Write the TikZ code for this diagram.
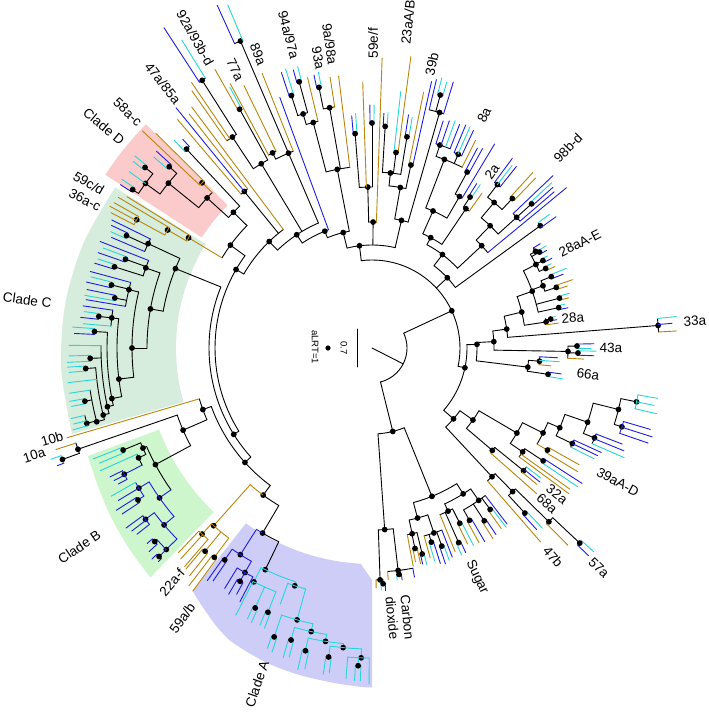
\documentclass[tikz,border=0pt]{standalone}
\usepackage{fontspec}
\setmainfont{Liberation Sans}
\definecolor{ccy}{RGB}{38,214,214}
\definecolor{cbl}{RGB}{30,30,225}
\definecolor{cbr}{RGB}{184,134,11}
\definecolor{wA}{RGB}{205,205,248}
\definecolor{wB}{RGB}{205,246,205}
\definecolor{wC}{RGB}{214,236,220}
\definecolor{wD}{RGB}{250,203,202}
\newcommand\TAr[4][black]{\draw[#1] (#2:#4) arc[start angle=#2,end angle=#3,radius=#4];}
\newcommand\TRd[4][black]{\draw[#1] (#2:#3) -- (#2:#4);}
\newcommand\TDt[2]{\fill (#1:#2) circle[radius=2.9];}
\newcommand\TTp[2]{\foreach \ta/\tr/\tc in {#2}{\draw[color=\tc] (\ta:#1) -- (\ta:\tr);}}
\newcommand\TPr[9][black]{%
 \draw[#1] ({0.5*(#2)+0.5*(#3)}:#4) -- ({0.5*(#2)+0.5*(#3)}:#5);
 \draw[#7] (#2:#5) arc[start angle=#2,end angle=#3,radius=#5];
 \draw[#7] (#2:#5) -- (#2:#6);
 \draw[#9] (#3:#5) -- (#3:#8);
 \fill ({0.5*(#2)+0.5*(#3)}:#5) circle[radius=2.9];}
\tikzset{lab/.style={font=\fontsize{13.5}{15}\selectfont, inner sep=0pt},
 sml/.style={font=\fontsize{9.5}{11}\selectfont, inner sep=0pt}}
\begin{document}
\begin{tikzpicture}[x=1pt,y=1pt,line width=0.9pt,line cap=round]
\useasboundingbox (0,0) rectangle (709,-713);
\begin{scope}[shift={(372,-348)}]
% ---------- clade wedges
\fill[wD] (135.3:203) -- (135.3:318) arc[start angle=135.3,end angle=147,radius=318] -- (147:203) arc[start angle=147,end angle=135.3,radius=203] -- cycle;
\fill[wC] (148:195) -- plot[smooth] coordinates {(148:303) (160:307) (172:310) (184:311.5) (196:312)} -- (196:196) arc[start angle=196,end angle=148,radius=196] -- cycle;
\fill[wB] (201:226) -- plot[smooth] coordinates {(200.8:304) (207:307) (213:311) (219.5:315) (226:319)} -- (226:228) arc[start angle=226,end angle=201,radius=228] -- cycle;
\fill[wA] (234.3:214) -- plot[smooth] coordinates {(233.6:302) (236:307.6) (240.9:319) (244.8:326) (251.6:332) (257.6:335) (263.4:337) (268:339) (270:339.5)} -- (270:232) -- (267:216) arc[start angle=267,end angle=234.3,radius=216] -- cycle;
% ---------- backbone
\TRd{-27}{0}{35}
\TAr{-76}{25}{35}
\TRd{25}{35}{88} \TDt{25}{88}
\TAr{-12}{97}{88}
% ---------- right lower (39aA-D etc.)
\TRd{-12}{88}{95} \TDt{-12}{95}
\TAr{-41}{2}{95}
\TRd{-41}{95}{108} \TDt{-41}{108}
\TAr{-47}{-35.5}{108}
\TRd{-47}{108}{176} \TDt{-47}{176}
\TAr{-49}{-45.6}{176}
\TRd[cbr]{-49}{176}{257}
\TRd{-45.6}{176}{201} \TDt{-45.6}{201}
\TAr{-47.2}{-44.5}{201}
\TPr{-47.8}{-46.6}{201}{225}{245}{cbl}{248}{ccy}
\TRd{-44.5}{201}{248} \TDt{-44.5}{248}
\TAr{-45.2}{-43.2}{248}
\TRd[cbr]{-45.2}{248}{278}
\TPr{-43.8}{-42.6}{248}{285}{300}{cbl}{301}{ccy}
\TRd{-35.5}{108}{124} \TDt{-35.5}{124}
\TAr{-40.4}{-30.4}{124}
\TRd{-40.4}{124}{158} \TDt{-40.4}{158}
\TAr{-41.5}{-39}{158}
\TRd[cbr]{-41.5}{158}{220}
\TRd{-39}{158}{195} \TDt{-39}{195}
\TAr{-39.6}{-37.6}{195}
\TTp{195}{-39.6/214/cbr, -38.6/215/cbl, -37.6/213/ccy}
\TRd{-30.4}{124}{168} \TDt{-30.4}{168}
\TAr{-34.6}{-26.4}{168}
\TRd{-34.6}{168}{183} \TDt{-34.6}{183}
\TAr{-36.5}{-33.4}{183}
\TTp{183}{-36.5/245/cbr, -35.5/243/cbr}
\TPr{-34}{-32.8}{183}{205}{248}{ccy}{250}{cbl}
\TRd{-26.4}{168}{191} \TDt{-26.4}{191}
\TAr{-30.2}{-23}{191}
\TPr[cbr]{-31}{-29.4}{191}{203}{240}{cbr}{238}{cbr}
\TRd{-23}{191}{204} \TDt{-23}{204}
\TAr{-25.5}{-19}{204}
\TRd{-25.5}{204}{222} \TDt{-25.5}{222}
\TAr{-26.5}{-24.5}{222}
\TTp{222}{-26.5/248/ccy, -25.5/250/cbl, -24.5/252/cbl}
\TRd{-19}{204}{228} \TDt{-19}{228}
\TAr{-22}{-14}{228}
\TRd{-22}{228}{240} \TDt{-22}{240}
\TAr{-23.5}{-21}{240}
\TTp{240}{-23.5/275/ccy, -22.2/272/cbl, -21/268/cbl}
\TRd{-14}{228}{254} \TDt{-14}{254}
\TAr{-17.5}{-11.5}{254}
\TRd{-17.5}{254}{262} \TDt{-17.5}{262}
\TAr[cbl]{-19}{-16.3}{262}
\TTp{262}{-19/292/cbl, -17.6/294/cbl, -16.3/290/cbl}
\TRd{-11.5}{254}{270} \TDt{-11.5}{270}
\TAr[ccy]{-13}{-10}{270}
\TTp{270}{-13/292/ccy, -11.5/288/ccy, -10/290/ccy}
% ---------- right (66a, 43a, 33a, 28a)
\TRd{2}{95}{105} \TDt{2}{105}
\TAr{-7}{3}{105}
\TRd{-7}{105}{157} \TDt{-7}{157}
\TAr{-8.5}{-4.5}{157}
\TPr{-9.2}{-7.8}{157}{178}{193}{ccy}{191}{cbl}
\TRd{-4.5}{157}{168} \TDt{-4.5}{168}
\TAr{-5.7}{-3}{168}
\TTp{168}{-5.7/180/cbr, -4.2/188/ccy, -3/186/cbl}
\TRd{3}{105}{122} \TDt{3}{122}
\TAr{-1}{8}{122}
\TRd{-1}{122}{196} \TDt{-1}{196}
\TAr{-3}{0.5}{196}
\TRd[cbr]{-3}{196}{212}
\TPr{-2}{-0.8}{196}{206}{222}{cbl}{224}{ccy}
\TPr{0}{1.1}{196}{205}{219}{ccy}{222}{cbl}
\TRd{8}{122}{136} \TDt{8}{136}
\TAr{4.5}{13.5}{136}
\TRd{4.5}{136}{287} \TDt{4.5}{287}
\TAr{3.2}{5.9}{287}
\TTp{287}{3.2/305/cbr, 4.7/301/cbl, 5.9/306/ccy}
\TRd{13.5}{136}{154} \TDt{13.5}{154}
\TAr{8.5}{19.5}{154}
\TRd{8.5}{154}{176} \TDt{8.5}{176}
\TAr{7.6}{9.6}{176}
\TRd[cbr]{7.6}{176}{188}
\TPr{8.7}{9.7}{176}{181}{187}{cbl}{186}{ccy}
\TRd{19.5}{154}{170} \TDt{19.5}{170}
\TAr{12.2}{27}{170}
\TPr{11.6}{12.8}{170}{191}{200}{cbl}{198}{ccy}
\TPr{14.3}{15.5}{170}{194}{203}{cbr}{205}{ccy}
\TRd{20}{170}{182} \TDt{20}{182}
\TAr{18.2}{21.7}{182}
\TPr{17.6}{18.8}{182}{194}{205}{cbr}{212}{cbr}
\TPr{21.1}{22.3}{182}{193}{205}{cbl}{210}{ccy}
\TRd{27}{170}{184} \TDt{27}{184}
\TAr{24.6}{30.6}{184}
\TPr{24}{25.2}{184}{191}{200}{cbr}{198}{ccy}
\TPr{26.5}{27.7}{184}{192}{201}{cbl}{198}{ccy}
\TPr{29.2}{30.4}{184}{193}{200}{cbl}{202}{ccy}
\TRd{30.6}{184}{190} \TDt{30.6}{190}
\TTp{190}{31.8/198/cbl}
\TAr{30.6}{31.8}{190}
% ---------- upper right (98b-d, 2a, 8a)
\TRd{43}{88}{103} \TDt{43}{103}
\TAr{36}{53}{103}
\TRd{36}{103}{208} \TDt{36}{208}
\TAr{35.5}{37}{208}
\TTp{208}{35.5/226/cbl, 37/222/ccy}
\TRd{53}{103}{117} \TDt{53}{117}
\TAr{43}{62}{117}
\TRd{43}{117}{150} \TDt{43}{150}
\TAr{39.5}{46}{150}
\TRd[cbl]{39.5}{150}{252}
\TRd{46}{150}{170} \TDt{46}{170}
\TAr{42.1}{50}{170}
\TRd{42.1}{170}{195} \TDt{42.1}{195}
\TAr{40.6}{43.6}{195}
\TRd[cbl]{40.6}{195}{240}
\TPr{41.6}{42.6}{195}{215}{242}{cbl}{244}{ccy}
\TRd[cbl]{43.6}{195}{250}
\TRd{50}{170}{190} \TDt{50}{190}
\TAr{46.8}{52.5}{190}
\TPr{46.1}{47.5}{190}{205}{236}{cbr}{238}{cbr}
\TRd{52.5}{190}{206} \TDt{52.5}{206}
\TAr{51.5}{53.5}{206}
\TTp{206}{51.5/232/cbl, 52.5/230/ccy, 53.5/236/cbl}
\TRd{62}{117}{125} \TDt{62}{125}
\TAr{56}{66}{125}
\TRd{56}{125}{168} \TDt{56}{168}
\TAr{54.6}{57}{168}
\TRd[cbr]{54.6}{168}{190}
\TPr{56.5}{57.5}{168}{180}{196}{ccy}{195}{cbl}
\TRd{66}{125}{150} \TDt{66}{150}
\TAr{60}{69}{150}
\TRd{60}{150}{175} \TDt{60}{175}
\TAr{59}{61.6}{175}
\TRd[cbl]{59}{175}{238}
\TPr{61}{62.2}{175}{200}{228}{cbl}{226}{cbl}
\TRd{69}{150}{202} \TDt{69}{202}
\TAr{63.5}{71.5}{202}
\TRd[cbr]{63.5}{202}{232}
\TRd{66}{202}{212} \TDt{66}{212}
\TAr{65}{67.2}{212}
\TTp{212}{65/240/cbl, 66.1/242/ccy, 67.2/242/cbl}
\TRd{71.5}{202}{214} \TDt{71.5}{214}
\TAr{68.6}{72.6}{214}
\TTp{214}{68.6/240/cbl, 69.9/242/ccy, 71.2/240/cbl, 72.6/238/cbl}
% ---------- top (39b, 23aA/B, 59e/f)
\TRd{97}{88}{103} \TDt{97}{103}
\TAr{77}{104}{103}
\TRd{77}{103}{131} \TDt{77}{131}
\TAr{74}{80}{131}
\TRd{74}{131}{245} \TDt{74}{245}
\TAr{73}{76.5}{245}
\TRd[cbl]{73}{245}{278}
\TPr{74.3}{75.5}{245}{262}{276}{ccy}{279}{ccy}
\TRd[cbl]{76.5}{245}{276}
\TRd{80}{131}{163} \TDt{80}{163}
\TAr{78}{84}{163}
\TPr{77.4}{78.6}{163}{187}{273}{cbl}{261}{cbr}
\TRd{84}{163}{176} \TDt{84}{176}
\TAr{80.6}{86.6}{176}
\TPr{80.1}{81.1}{176}{214}{234}{ccy}{236}{cbl}
\TPr{82.4}{83.6}{176}{197}{294}{cbr}{258}{ccy}
\TPr{86.1}{87.1}{176}{222}{236}{ccy}{235}{cbl}
\TRd{89.5}{103}{126} \TDt{89.5}{126}
\TAr{88}{91.5}{126}
\TRd[cbr]{88}{126}{290}
\TRd{91.5}{126}{161} \TDt{91.5}{161}
\TAr{90}{94.5}{161}
\TPr{89.5}{90.5}{161}{225}{243}{ccy}{243}{cbl}
\TRd[cbr]{92}{161}{266}
\TPr{94}{95}{161}{215}{235}{ccy}{233}{cbl}
% ---------- top left (9a/98a ... 47a/85a)
\TRd{104}{103}{119} \TDt{104}{119}
\TAr{101}{112}{119}
\TRd{101}{119}{182} \TDt{101}{182}
\TAr{97}{104.6}{182}
\TRd[cbr]{97}{182}{274}
\TRd{100}{182}{244} \TDt{100}{244}
\TAr{98.8}{101.5}{244}
\TRd[cbr]{98.8}{244}{274}
\TPr{101}{102}{244}{266}{281}{ccy}{279}{cbl}
\TRd{104.6}{182}{233} \TDt{104.6}{233}
\TAr{103.4}{106.4}{233}
\TRd[cbr]{103.4}{233}{278}
\TRd{106.4}{233}{244} \TDt{106.4}{244}
\TAr{105.3}{107.7}{244}
\TPr{104.8}{105.8}{244}{276}{291}{ccy}{289}{cbl}
\TPr{107.2}{108.2}{244}{265}{292}{ccy}{290}{cbl}
\TRd{112}{119}{126} \TDt{112}{126}
\TAr{110.2}{123.6}{126}
\TRd[cbl]{110.2}{126}{267}
\TRd{123.6}{126}{136} \TDt{123.6}{136}
\TAr{113.2}{134}{136}
\TRd{113.2}{136}{334} \TDt{113.2}{212} \TDt{113.2}{334}
\TAr{111.8}{117}{212}
\TRd[cbr]{111.8}{212}{296}
\TAr{112.8}{114.3}{334}
\TTp{334}{112.8/372/ccy, 114.3/376/cbl}
\TRd{117}{212}{219} \TDt{117}{219}
\TAr{116}{118.2}{219}
\TRd[cbr]{116}{219}{292}
\TRd[cbr]{118.2}{219}{300}
\TRd{121}{136}{215} \TDt{121}{215}
\TAr{119}{123.5}{215}
\TPr{118.6}{119.4}{215}{273}{297}{ccy}{320}{cbr}
\TRd{123.5}{215}{253} \TDt{123.5}{253}
\TAr{122.4}{125}{253}
\TRd{122.4}{253}{317} \TDt{122.4}{317}
\TAr{121.7}{123}{317}
\TTp{317}{121.7/362/ccy, 123/382/cbl}
\TRd[cbr]{124.2}{253}{321}
\TRd[cbr]{125}{253}{314}
\TRd{134}{136}{148} \TDt{134}{148}
\TAr{126.8}{150}{148}
\TRd[cbr]{126.8}{148}{301}
\TRd{129.2}{148}{202} \TDt{129.2}{202}
\TAr{128}{130.4}{202}
\TTp{202}{128/297/cbr, 130.4/300/cbr}
\TRd[cbl]{129.2}{202}{310}
% ---------- clade D and link
\TRd{150}{148}{157} \TDt{150}{157}
\TAr{144}{212}{157}
\TRd{144}{157}{175} \TDt{144}{175}
\TAr{135.6}{149}{175}
\TRd{135.6}{175}{194} \TDt{135.6}{194}
\TAr{133}{137.7}{194}
\TRd{133}{194}{272} \TDt{133}{272}
\TAr{132.2}{133.6}{272}
\TTp{272}{132.2/282/cbl, 133.6/287/ccy}
\TRd{137.7}{194}{223} \TDt{137.7}{223}
\TAr{135.8}{141}{223}
\TRd[cbr]{135.8}{223}{237} \TDt{135.8}{237}
\TAr[cbr]{135.2}{136.6}{237}
\TTp{237}{135.2/305/cbr, 136.6/316/cbr}
\TRd{141}{223}{262} \TDt{141}{262}
\TAr{138.2}{144}{262}
\TPr{137.6}{138.8}{262}{272}{292}{cbl}{290}{ccy}
\TRd{144}{262}{280} \TDt{144}{280}
\TAr{141.5}{146.5}{280}
\TPr{141}{142}{280}{290}{305}{ccy}{303}{ccy}
\TRd[ccy]{144}{280}{300}
\TPr{146}{147}{280}{287}{302}{ccy}{300}{cbl}
% ---------- clade C
\TRd[cbr]{149}{175}{214} \TDt{149}{214}
\TAr[cbr]{148.3}{150}{214}
\TRd[cbr]{148.3}{214}{288}
\TRd[cbr]{150}{214}{236} \TDt{150}{236}
\TAr[cbr]{149.3}{151.4}{236}
\TRd[cbr]{149.3}{236}{295}
\TRd[cbr]{151.4}{236}{268} \TDt{151.4}{268}
\TAr[cbr]{150.6}{152.6}{268}
\TTp{268}{150.6/296/cbr, 151.6/298/cbr, 152.6/294/cbr}
\TRd{212}{157}{163} \TDt{212}{163}
\TAr{158}{222}{163}
\TRd{158}{163}{212} \TDt{158}{212}
\TAr{155}{170}{212}
\TRd{155}{212}{247} \TDt{155}{247}
\TAr{153.8}{157}{247}
\TRd[cbl]{153.8}{247}{290}
\TPr{154.8}{156}{247}{270}{288}{cbl}{286}{ccy}
\TRd[cbl]{157}{247}{283}
\TRd{170}{212}{225} \TDt{170}{225}
\TAr{160.5}{180}{225}
\TRd{160.5}{225}{240} \TDt{160.5}{240}
\TAr{158.6}{162.5}{240}
\TRd[cbl]{158.6}{240}{292}
\TPr{159.6}{160.8}{240}{262}{287}{ccy}{290}{cbl}
\TPr{162}{163}{240}{270}{288}{ccy}{290}{cbl}
\TRd{180}{225}{240} \TDt{180}{240}
\TAr{166.5}{187}{240}
\TRd{166.5}{240}{250} \TDt{166.5}{250}
\TAr{164.8}{170.4}{250}
\TRd[cbl]{164.8}{250}{292}
\TPr{165.8}{167}{250}{268}{290}{ccy}{293}{cbl}
\TPr{168.4}{169.6}{250}{262}{291}{cbl}{292}{ccy}
\TRd[cbl]{170.4}{250}{290}
\TRd{187}{240}{255} \TDt{187}{255}
\TAr{173.4}{191}{255}
\TRd{173.4}{255}{262} \TDt{173.4}{262}
\TAr{171.7}{175.2}{262}
\TRd[cbl]{171.7}{262}{292}
\TPr{172.8}{174}{262}{275}{290}{ccy}{293}{cbl}
\TRd[ccy]{175.2}{262}{290}
\TRd{191}{255}{265} \TDt{191}{265}
\TAr{176.6}{192.5}{265}
\TPr{176}{177.2}{265}{278}{300}{ccy}{298}{cbl}
\TRd{192.5}{265}{271} \TDt{192.5}{271}
\TAr{179.5}{194}{271}
\TRd[ccy]{179.5}{271}{303}
\TPr{181.5}{182.7}{271}{282}{303}{ccy}{305}{ccy}
\TRd{194}{271}{277} \TDt{194}{277}
\TAr{184.1}{195}{277}
\TPr{183.6}{184.6}{277}{287}{305}{ccy}{304}{ccy}
\TRd[ccy]{186.5}{277}{306}
\TRd{195}{277}{285} \TDt{195}{285}
\TAr{188.5}{194.8}{285}
\TRd[ccy]{188.5}{285}{306}
\TPr{190}{191}{285}{292}{307}{ccy}{306}{ccy}
\TRd{194.8}{285}{295} \TDt{194.8}{295}
\TAr{193.2}{195.3}{295}
\TTp{295}{193.2/309/ccy, 194.3/308/ccy, 195.3/310/ccy}
% ---------- 10a/10b and clade B
\TRd{222}{163}{171} \TDt{222}{171}
\TAr{200}{233.5}{171}
\TRd{200}{171}{180} \TDt{200}{180}
\TAr{196.4}{203.5}{180}
\TRd[cbr]{196.4}{180}{318}
\TRd{203.5}{180}{206} \TDt{203.5}{206}
\TAr{199}{208.3}{206}
\TRd{199}{206}{311} \TDt{199}{311}
\TAr{197.8}{199.8}{311}
\TRd[cbr]{197.8}{311}{332}
\TPr{199.1}{200.5}{311}{329}{340}{ccy}{336}{cbl}
\TRd{208.3}{206}{246} \TDt{208.3}{246}
\TAr{203.6}{215.2}{246}
\TRd{203.6}{246}{250} \TDt{203.6}{250}
\TAr{202.3}{205.2}{250}
\TPr{201.7}{202.9}{250}{269}{300}{ccy}{296}{ccy}
\TRd{205.2}{250}{258} \TDt{205.2}{258}
\TAr{204.3}{207}{258}
\TRd[ccy]{204.3}{258}{298}
\TRd[cbl]{207}{258}{278} \TDt{207}{278}
\TAr[cbl]{206.2}{208.2}{278}
\TTp{278}{206.2/292/cbl, 207.2/290/cbl, 208.2/288/cbl}
\TRd[cbl]{215.2}{246}{260} \TDt{215.2}{260}
\TAr[cbl]{211}{220.4}{260}
\TRd[cbl]{211}{260}{272} \TDt{211}{272}
\TAr[cbl]{209.6}{213}{272}
\TRd[ccy]{209.6}{272}{300}
\TRd[cbl]{211}{272}{296}
\TPr[cbl]{212.4}{213.6}{272}{279}{303}{cbl}{300}{cbl}
\TRd[cbl]{220.4}{260}{273} \TDt{220.4}{273}
\TAr[cbl]{217.1}{224.4}{273}
\TRd[cbl]{217.1}{273}{284} \TDt{217.1}{284}
\TAr[cbl]{216.2}{218.4}{284}
\TTp{284}{216.2/305/cbl, 217.3/302/cbl, 218.4/300/cbl}
\TRd[cbl]{224.4}{273}{288} \TDt{224.4}{288}
\TAr[cbl]{221.7}{224.4}{288}
\TPr[cbl]{221}{222.4}{288}{291}{298}{cbl}{302}{cbl}
\TPr[cbl]{223.8}{225}{288}{298}{305}{cbl}{302}{cbl}
% ---------- 22a-f, 59a/b
\TRd{233.5}{171}{183} \TDt{233.5}{183}
\TAr[cbr]{228.3}{233.5}{183}
\TAr{233.5}{239.4}{183}
\TRd[cbr]{228.3}{183}{238} \TDt{228.3}{238}
\TAr[cbr]{227.6}{232.9}{238}
\TRd[cbr]{227.6}{238}{252} \TDt{227.6}{252}
\TAr[cbr]{226.6}{229.4}{252}
\TTp{252}{226.6/282/cbr, 227.8/285/cbr, 229.4/288/cbr}
\TPr[cbr]{229.9}{231.3}{238}{263}{289}{cbr}{292}{cbr}
\TPr[cbr]{232.4}{233.6}{238}{262}{300}{cbr}{302}{cbr}
% ---------- clade A
\TRd{239.4}{183}{215} \TDt{239.4}{215}
\TAr[cbl]{237.5}{239.4}{215}
\TAr{239.4}{244.3}{215}
\TRd[cbl]{237.5}{215}{245} \TDt{237.5}{245}
\TAr[cbl]{235.2}{240.5}{245}
\TPr[cbl]{234.7}{235.7}{245}{258}{285}{cbl}{282}{cbl}
\TRd[cbl]{240.5}{245}{258} \TDt{240.5}{258}
\TAr[cbl]{238.5}{242.5}{258}
\TRd[cbl]{238.5}{258}{282}
\TPr[cbl]{239.8}{241.2}{258}{268}{285}{cbl}{281}{cbl}
\TRd[cbl]{242.5}{258}{286}
\TRd{244.3}{215}{246} \TDt{244.3}{246}
\TAr[ccy]{243.2}{252}{246}
\TRd[ccy]{243.2}{246}{262} \TDt{243.2}{262}
\TAr[ccy]{243}{248.5}{262}
\TRd[ccy]{243}{262}{300}
\TPr[ccy]{245.3}{246.3}{262}{285}{298}{ccy}{300}{ccy}
\TPr[ccy]{248}{249}{262}{284}{299}{ccy}{300}{ccy}
\TRd[ccy]{252}{246}{250} \TDt{252}{250}
\TAr[ccy]{250.3}{254.6}{250}
\TRd[ccy]{250.3}{250}{272}
\TRd[ccy]{254.6}{250}{282} \TDt{254.6}{282}
\TAr[ccy]{251.3}{257.9}{282}
\TPr[ccy]{250.8}{251.8}{282}{305}{318}{ccy}{320}{ccy}
\TRd[ccy]{257.9}{282}{290} \TDt{257.9}{290}
\TAr[ccy]{254.5}{261}{290}
\TPr[ccy]{254}{255}{290}{303}{322}{ccy}{320}{ccy}
\TRd[ccy]{261}{290}{297} \TDt{261}{297}
\TAr[ccy]{257.6}{264.5}{297}
\TPr[ccy]{257}{258.2}{297}{310}{330}{ccy}{328}{ccy}
\TRd[ccy]{264.5}{297}{301} \TDt{264.5}{301}
\TAr[ccy]{262}{268}{301}
\TPr[ccy]{261.5}{262.5}{301}{312}{330}{ccy}{328}{ccy}
\TRd[ccy]{268}{301}{310} \TDt{268}{310}
\TAr[ccy]{265.5}{269.5}{310}
\TRd[ccy]{265.5}{310}{332}
\TPr[ccy]{267}{268}{310}{318}{333}{ccy}{333}{ccy}
\TRd[ccy]{269.5}{310}{336}
% ---------- carbon dioxide and sugar
\TRd{-76}{35}{86} \TDt{-76}{86}
\TAr{-86}{-68}{86}
\TRd{-86}{86}{182} \TDt{-86}{182}
\TAr{-88}{-83.3}{182}
\TRd{-88}{182}{232} \TDt{-88}{232}
\TAr{-89}{-87.3}{232}
\TRd[cbr]{-89}{232}{240}
\TPr{-87.8}{-86.8}{232}{236}{242}{ccy}{243}{cbl}
\TRd{-83.3}{182}{224} \TDt{-83.3}{224}
\TAr{-86}{-79.5}{224}
\TRd[cbr]{-86}{224}{232}
\TPr{-83.8}{-82.6}{224}{228}{233}{ccy}{234}{cbl}
\TRd[cbl]{-79.5}{224}{233}
\TRd{-68}{86}{160} \TDt{-68}{160}
\TAr{-75}{-58}{160}
\TRd{-75}{160}{176} \TDt{-75}{176}
\TAr{-77.8}{-71.5}{176}
\TRd{-77.8}{176}{190} \TDt{-77.8}{190}
\TAr{-79.3}{-76.3}{190}
\TRd[cbr]{-79.3}{190}{222}
\TPr{-78.5}{-77.3}{190}{205}{218}{cbr}{221}{cbr}
\TPr{-76.8}{-75.8}{190}{212}{222}{cbl}{224}{ccy}
\TRd{-71.5}{176}{195} \TDt{-71.5}{195}
\TAr{-74.5}{-69}{195}
\TRd[cbr]{-74.5}{195}{218}
\TPr{-73.6}{-72.4}{195}{203}{222}{ccy}{226}{cbl}
\TPr{-71.2}{-70}{195}{210}{228}{cbl}{226}{ccy}
\TRd[cbl]{-69}{195}{224}
\TRd{-58}{160}{172} \TDt{-58}{172}
\TAr{-65}{-55}{172}
\TRd{-65}{172}{180} \TDt{-65}{180}
\TAr{-67.8}{-63.4}{180}
\TRd[cbr]{-67.8}{180}{220}
\TPr{-66.6}{-65.4}{180}{213}{226}{ccy}{225}{cbl}
\TPr{-64}{-62.8}{180}{196}{218}{cbr}{222}{ccy}
\TRd{-55}{172}{186} \TDt{-55}{186}
\TAr{-60.5}{-52.5}{186}
\TPr{-61.2}{-59.8}{186}{198}{222}{cbr}{224}{cbl}
\TPr{-57.6}{-56.4}{186}{206}{226}{cbr}{224}{cbl}
\TPr{-54.4}{-53.2}{186}{200}{222}{cbr}{224}{ccy}
\TRd[cbl]{-52.5}{186}{222}
% ---------- labels
\node[lab,rotate=-60.3] (l1) at (119.7:357) {92a/93b-d};
\node[lab,rotate=-63.8] (l2) at (116.2:310) {77a};
\node[lab,rotate=-68.8] (l3) at (111.2:315) {89a};
\node[lab,rotate=-51.7] (l4) at (128.3:337.5) {47a/85a};
\node[lab,rotate=-44] (l5) at (136:339.5) {58a-c};
\node[lab,rotate=-39.6] (l6) at (140.4:348) {Clade D};
\node[lab,rotate=-30.2] (l7) at (149.8:327.6) {59c/d};
\node[lab,rotate=-27.3] (l8) at (152.7:323) {36a-c};
\node[lab,rotate=-7.9] (l9) at (172.1:348) {Clade C};
\node[lab,rotate=-75.1] (l10) at (104.9:324) {94a/97a};
\node[lab,rotate=-79.5] (l11) at (100.5:295) {93a};
\node[lab,rotate=-82.1] (l12) at (97.9:307) {9a/98a};
\node[lab,rotate=89.8] (l13) at (89.8:305) {59e/f};
\node[lab,rotate=83.7] (l14) at (83.7:328) {23aA/B};
\node[lab,rotate=78.1] (l15) at (78.1:290) {39b};
\node[lab,rotate=64.3] (l16) at (64.3:258.5) {8a};
\node[lab,rotate=55.7] (l17) at (55.7:213) {2a};
\node[lab,rotate=45.6] (l18) at (45.6:280) {98b-d};
\node[lab,rotate=26.8] (l19) at (26.8:233) {28aA-E};
\node[lab,rotate=4] (l20) at (8.5:203) {28a};
\node[lab,rotate=3] (l21) at (4.8:324) {33a};
\node[lab,rotate=-1] (l22) at (0:239) {43a};
\node[lab,rotate=-6.9] (l23) at (-6.9:217.6) {66a};
\node[lab,rotate=-28.6] (l24) at (-28.6:280) {39aA-D};
\node[lab,rotate=-38.3] (l25) at (-38.3:235.7) {32a};
\node[lab,rotate=-41.7] (l26) at (-41.7:234.4) {68a};
\node[lab,rotate=-49.1] (l27) at (-49.1:276.5) {47b};
\node[lab,rotate=-44.1] (l28) at (-44.1:316) {57a};
\node[lab,rotate=-65.4] (l29) at (-65.4:252) {Sugar};
\node[lab,rotate=-84.1,align=left] (l30) at (-84.1:271.5) {Carbon\\dioxide};
\node[lab,rotate=71.1] (l31) at (251.1:355) {Clade A};
\node[lab,rotate=54.9] (l32) at (234.9:330) {59a/b};
\node[lab,rotate=49.5] (l33) at (229.5:308) {22a-f};
\node[lab,rotate=34.2] (l34) at (214.2:354) {Clade B};
\node[lab,rotate=15.9] (l35) at (195.9:332.7) {10b};
\node[lab,rotate=17.6] (l36) at (197.6:354.5) {10a};
\end{scope}
% ---------- scale bar and legend
\coordinate (sb1) at (357,-329);
\coordinate (sb2) at (357,-367);
\draw (sb1) -- (sb2);
\node[sml,rotate=-90] (sbl) at (344,-348) {0.7};
\fill (328,-348) circle[radius=2.6];
\node[sml,rotate=-90] (alrt) at (315,-347) {aLRT=1};
\end{tikzpicture}
\end{document}
